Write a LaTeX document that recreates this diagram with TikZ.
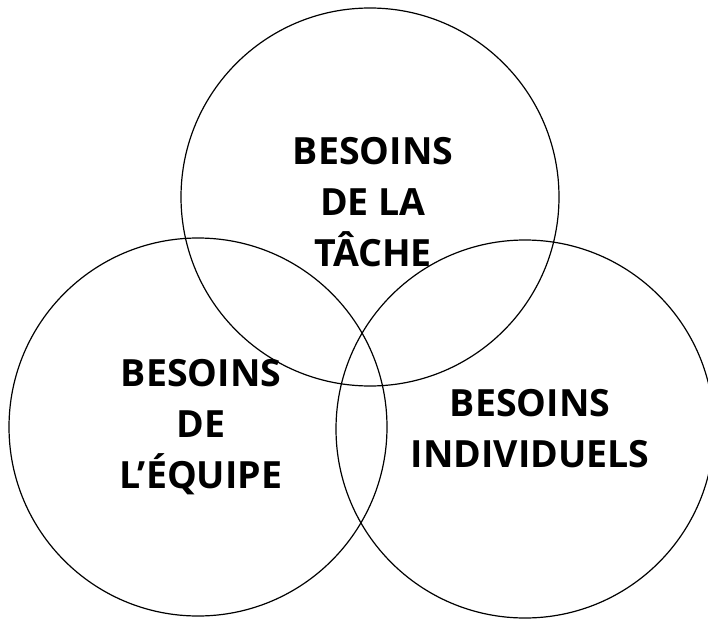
\documentclass[tikz,border=0pt]{standalone}
\usepackage{fontspec}
\setsansfont{Open Sans}
\usepackage{tikz}
\tikzset{
  vn diagram/.style={font=\sffamily\bfseries, text=black,
    line cap=round, line join=round},
  vn set/.style={draw=black, line width=1.2pt, circle, minimum size=378pt, inner sep=0pt},
  vn label/.style={align=center, font=\sffamily\bfseries\fontsize{37.5}{51}\selectfont}
}
\begin{document}
\begin{tikzpicture}[vn diagram,x=1pt,y=-1pt]
\useasboundingbox (0,0) rectangle (708,620);
\node[vn set] (tache) at (370,197) {};
\node[vn set] (equipe) at (198,427) {};
\node[vn set] (indiv) at (525,429) {};
\node[vn label] (tacheText) at (373,202) {BESOINS\\DE LA\\TÂCHE};
\node[vn label] (equipeText) at (201,427) {BESOINS\\DE\\L’ÉQUIPE};
\node[vn label] (indivText) at (530,429) {BESOINS\\INDIVIDUELS};
\end{tikzpicture}
\end{document}
